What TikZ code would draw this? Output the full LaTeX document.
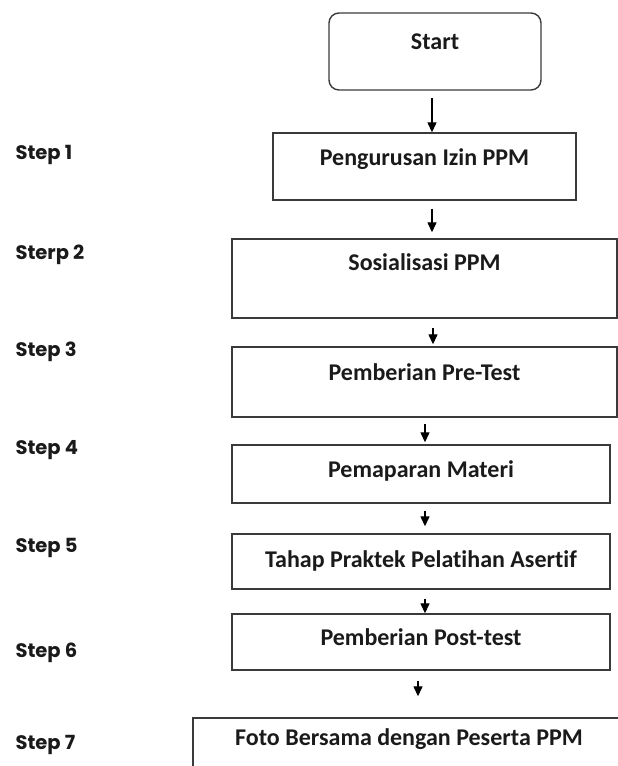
\documentclass[tikz,border=0pt]{standalone}
\usepackage{fontspec}
\setmainfont{Carlito}[Ligatures=NoCommon]
\newfontfamily\gothicfont{Poppins}
\usetikzlibrary{arrows.meta}
\definecolor{Ink}{HTML}{1A1A1A}
\definecolor{Frame}{HTML}{3A3A3A}

\begin{document}
\begin{tikzpicture}[x=1pt,y=-1pt,
    box/.style={draw=Frame,line width=1.4pt,inner xsep=0pt,inner ysep=0pt,
      font=\fontsize{24}{26}\selectfont\bfseries,text=Ink},
    flow/.style={-{Triangle[length=10pt,width=9pt]},line width=1.3pt,black},
    steplab/.style={anchor=west,font=\gothicfont\fontsize{19.5}{21}\selectfont\bfseries,text=Ink}]
  \useasboundingbox (0,0) rectangle (618,766);
  % boxes
  \node[box,rounded corners=10pt,minimum width=212pt,text height=36.5pt,text depth=40.5pt] (start) at (435,51.5) {Start};
  \node[box,minimum width=303pt,text height=32pt,text depth=35pt] (p1) at (424.5,166.5) {Pengurusan Izin PPM};
  \node[box,minimum width=385pt,text height=31pt,text depth=48pt] (p2) at (424.5,278.5) {Sosialisasi PPM};
  \node[box,minimum width=385pt,text height=33pt,text depth=37pt] (p3) at (424.5,382) {Pemberian Pre-Test};
  \node[box,minimum width=378pt,text height=32pt,text depth=26pt] (p4) at (421,474) {Pemaparan Materi};
  \node[box,minimum width=378pt,text height=33pt,text depth=22pt] (p5) at (421,561.5) {Tahap Praktek Pelatihan Asertif};
  \node[box,minimum width=378pt,text height=31pt,text depth=25pt] (p6) at (421,642) {Pemberian Post-test};
  \node[box,minimum width=432pt,text height=27pt,text depth=45pt] (p7) at (409,754) {Foto Bersama dengan Peserta PPM};
  % arrows
  \draw[flow,shorten <=7pt] ([xshift=-3pt]start.south) -- ([xshift=7.5pt]p1.north);
  \draw[flow,shorten <=8pt,shorten >=6pt] ([xshift=7.5pt]p1.south) -- ([xshift=7.5pt]p2.north);
  \draw[flow,shorten <=9pt,shorten >=2pt] ([xshift=8.5pt]p2.south) -- ([xshift=8.5pt]p3.north);
  \draw[flow,shorten <=6pt,shorten >=2pt] ([xshift=0.5pt]p3.south) -- ([xshift=4pt]p4.north);
  \draw[flow,shorten <=7pt,shorten >=7pt] ([xshift=4pt]p4.south) -- ([xshift=4pt]p5.north);
  \draw[flow,shorten <=9pt] ([xshift=4pt]p5.south) -- ([xshift=4pt]p6.north);
  \draw[flow,shorten <=10pt,shorten >=21pt] ([xshift=-3pt]p6.south) -- ([xshift=9pt]p7.north);
  % step labels
  \foreach \i/\y/\lab in {1/155/Step 1,2/255/Sterp 2,3/352/Step 3,4/450/Step 4,5/548/Step 5,6/653/Step 6,7/745/Step 7}
    \node[steplab] (s\i) at (12,\y) {\lab};
\end{tikzpicture}
\end{document}
